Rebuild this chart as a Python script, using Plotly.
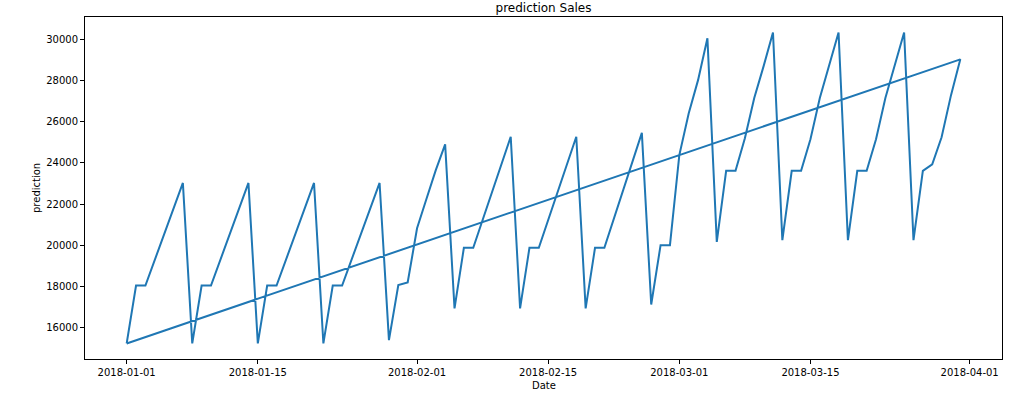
import datetime as dt
import plotly.graph_objects as go

# ---- data ----
start_date = dt.date(2018, 1, 1)
n_days = 90
dates = [start_date + dt.timedelta(days=i) for i in range(n_days)]

week_jan = [15240, 18050, 18050, 19300, 20550, 21800, 23030]
week_jan_end = [15400, 18070, 18200, 20830, 22250, 23650, 24900]
week_feb = [16940, 19880, 19880, 21230, 22600, 23980, 25270]
week_feb_end = [16940, 19880, 19880, 21300, 22700, 24100, 25460]
week_feb_mar = [17130, 20010, 20010, 24380, 26400, 28020, 30050]
week_mar1 = [20170, 23620, 23620, 25200, 27150, 28700, 30330]
week_mar = [20250, 23620, 23620, 25150, 27150, 28700, 30330]
week_mar_last = [20250, 23620, 23930, 25250, 27280, 29030]

prediction = (week_jan * 4 + week_jan_end + week_feb * 2 + week_feb_end
              + week_feb_mar + week_mar1 + week_mar * 2 + week_mar_last)

# the series is drawn as a closed loop (last point joined back to first)
x_vals = dates + [dates[0]]
y_vals = prediction + [prediction[0]]

x_tick_vals = ["2018-01-01", "2018-01-15", "2018-02-01", "2018-02-15",
               "2018-03-01", "2018-03-15", "2018-04-01"]
y_tick_vals = [16000, 18000, 20000, 22000, 24000, 26000, 28000, 30000]

# ---- ranges with 5% margins (matplotlib style) ----
span = dates[-1] - dates[0]
xm = span * 0.05
x_range = [dt.datetime.combine(dates[0], dt.time()) - xm,
           dt.datetime.combine(dates[-1], dt.time()) + xm]
ymin, ymax = min(prediction), max(prediction)
ym = (ymax - ymin) * 0.05
y_range = [ymin - ym, ymax + ym]

W, H = 1010, 395
L, R, T, B = 85, 8, 17, 36

fig = go.Figure()
fig.add_trace(go.Scatter(x=x_vals, y=y_vals, mode="lines",
                         line=dict(color="#1f77b4", width=2),
                         showlegend=False, hoverinfo="skip"))

font = dict(family="DejaVu Sans", size=10, color="black")
fig.update_layout(
    width=W, height=H,
    margin=dict(l=L, r=R, t=T, b=B),
    paper_bgcolor="white", plot_bgcolor="white",
    font=font,
    title=dict(text="prediction Sales", x=(L + (W - R)) / 2 / W, xanchor="center",
               y=1 - 8 / H, yanchor="middle",
               font=dict(family="DejaVu Sans", size=12, color="black")),
)
fig.update_xaxes(range=x_range, tickvals=x_tick_vals, ticktext=x_tick_vals,
                 showgrid=False, zeroline=False, showline=True, mirror=True,
                 linecolor="black", linewidth=1, ticks="outside", ticklen=4,
                 tickcolor="black", tickwidth=1, tickfont=font)
fig.update_yaxes(range=y_range, tickvals=y_tick_vals,
                 ticktext=[str(v) for v in y_tick_vals],
                 showgrid=False, zeroline=False, showline=True, mirror=True,
                 linecolor="black", linewidth=1, ticks="outside", ticklen=4,
                 tickcolor="black", tickwidth=1, tickfont=font)

plot_h = H - T - B
fig.add_annotation(text="Date", xref="paper", yref="paper", x=0.5,
                   y=-(385 - (H - B)) / plot_h, xanchor="center", yanchor="middle",
                   showarrow=False, font=font)
fig.add_annotation(text="prediction", xref="paper", yref="paper",
                   x=-(L - 36) / (W - L - R), y=0.5, xanchor="center", yanchor="middle",
                   textangle=-90, showarrow=False, font=font)

fig.write_html("out.html",
               config={"displayModeBar": False},
               post_script="document.body.style.margin='0';document.body.style.overflow='hidden';")
